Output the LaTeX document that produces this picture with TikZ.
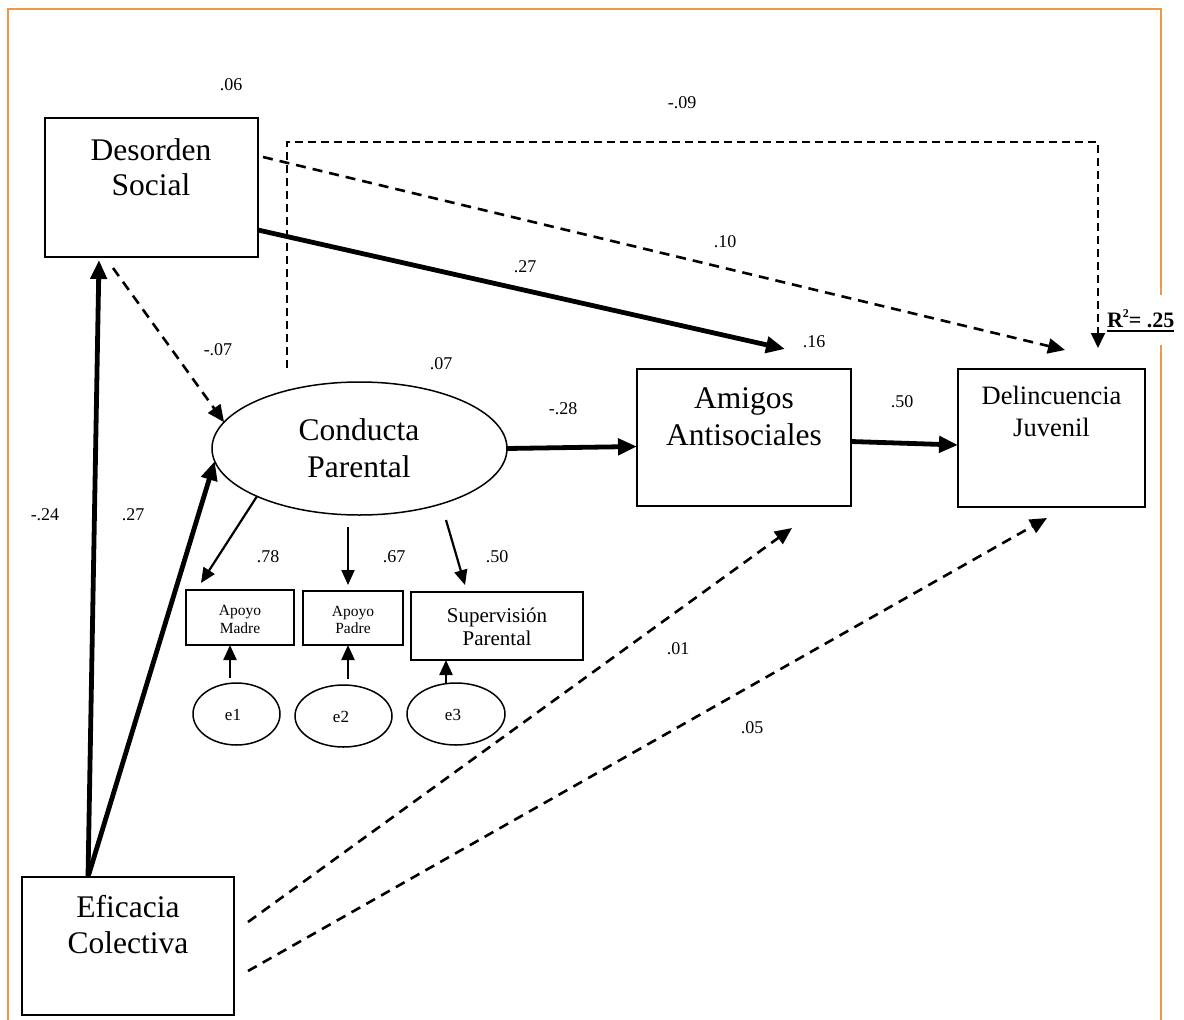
\documentclass[tikz,border=0pt]{standalone}
\usepackage{fontspec}
\setmainfont{Liberation Serif}
\usetikzlibrary{arrows.meta,calc,shapes.geometric}
\definecolor{frameor}{RGB}{243,150,72}
\begin{document}
\begin{tikzpicture}[x=1pt,y=-1pt,
  every node/.style={inner sep=0pt, outer sep=0pt},
  bigbox/.style={draw, line width=2pt, rectangle},
  smallbox/.style={draw, line width=1.5pt, rectangle},
  errell/.style={draw, ellipse, line width=1.5pt},
  lbl/.style={font=\fontsize{18}{20}\selectfont, anchor=center},
  bigtxt/.style={font=\fontsize{31.5}{35}\selectfont, anchor=base},
  midtxt/.style={font=\fontsize{26.5}{30}\selectfont, anchor=base},
  suptxt/.style={font=\fontsize{21}{23}\selectfont, anchor=base},
  smtxt/.style={font=\fontsize{15.5}{18}\selectfont, anchor=base},
  thkarrow/.style={line width=4.8pt, -{Triangle[length=19pt,width=16pt]}},
  dsharrow/.style={line width=2.6pt, dash pattern=on 10pt off 7pt, -{Triangle[length=17pt,width=15pt]}},
  thinpath/.style={line width=1.8pt, dash pattern=on 8pt off 5pt, -{Triangle[length=15pt,width=14pt]}},
  indarrow/.style={line width=2.2pt, -{Triangle[length=15pt,width=13pt]}}
]
\useasboundingbox (0,0) rectangle (1184,1020);

% frame
\draw[frameor, line width=2pt] (8,1020) -- (8,9) -- (1161,9) -- (1161,295);
\draw[frameor, line width=2pt] (1161,345) -- (1161,1020);

% main boxes
\node[bigbox, minimum width=213pt, minimum height=139pt] (ds) at (151.5,187.5) {};
\node[bigtxt] (dsA) at (151,160) {Desorden};
\node[bigtxt] (dsB) at (151,195) {Social};

\node[bigbox, minimum width=212pt, minimum height=138pt] (ef) at (128,946) {};
\node[bigtxt] (efA) at (128,917) {Eficacia};
\node[bigtxt] (efB) at (128,953) {Colectiva};

\node[bigbox, minimum width=214pt, minimum height=137pt] (am) at (744,437.5) {};
\node[bigtxt] (amA) at (744,408) {Amigos};
\node[bigtxt] (amB) at (744,445) {Antisociales};

\node[bigbox, minimum width=187pt, minimum height=138pt] (dj) at (1051.5,438) {};
\node[midtxt] (djA) at (1051.5,404) {Delincuencia};
\node[midtxt] (djB) at (1051.5,436) {Juvenil};

\node[draw, ellipse, line width=1.5pt, minimum width=295pt, minimum height=133pt] (cp) at (359.5,448.5) {};
\node[bigtxt] (cpA) at (359,440) {Conducta};
\node[bigtxt] (cpB) at (359,477) {Parental};

% indicators
\node[smallbox, minimum width=108pt, minimum height=55pt] (apm) at (240,617.5) {};
\node[smtxt] (apmA) at (240,615) {Apoyo};
\node[smtxt] (apmB) at (240,633) {Madre};

\node[smallbox, minimum width=100pt, minimum height=54pt] (app) at (353,618) {};
\node[smtxt] (appA) at (353,616) {Apoyo};
\node[smtxt] (appB) at (353,633) {Padre};

\node[smallbox, minimum width=172pt, minimum height=68pt] (sup) at (497,626) {};
\node[suptxt] (supA) at (497,622) {Supervisión};
\node[suptxt] (supB) at (497,645) {Parental};

\node[errell, minimum width=87pt, minimum height=62pt] (e1) at (236.5,714) {};
\node[font=\fontsize{17}{19}\selectfont] (e1t) at (233,715) {e1};
\node[errell, minimum width=97pt, minimum height=62pt] (e2) at (343.5,716) {};
\node[font=\fontsize{17}{19}\selectfont] (e2t) at (341,717) {e2};
\node[errell, minimum width=98pt, minimum height=62pt] (e3) at (456,714) {};
\node[font=\fontsize{17}{19}\selectfont] (e3t) at (453,715) {e3};

% measurement arrows
\draw[indarrow] (cp.205) -- ($(apm.north west)+(15,-7)$);
\draw[indarrow] ($(cp.south)+(-11.5,12)$) -- ($(app.north)+(-5,-6)$);
\draw[indarrow] ($(cp.south)+(86.5,5)$) -- ($(sup.north)+(-32,-7)$);
\draw[indarrow] ($(e1.north)+(-6.5,-5)$) -- ($(apm.south)+(-10,0)$);
\draw[indarrow] ($(e2.north)+(4.5,-6)$) -- ($(app.south)+(-5,0)$);
\draw[indarrow] ($(e3.north)+(-10,1)$) -- ($(sup.south)+(-51,0)$);

% structural paths
\draw[thkarrow] ($(ef.north)+(-40,0)$) -- ($(ds.south)+(-52.5,3)$);
\draw[thkarrow] ($(ef.north)+(-40,0)$) -- (cp.185);
\draw[dsharrow] ($(ds.south)+(-38.5,11)$) -- (cp.169);
\draw[thkarrow] ($(ds.east)+(0,42.5)$) -- ($(am.north)+(41,-20)$);
\draw[dsharrow] ($(ds.east)+(5,-30.5)$) -- ($(dj.north)+(13.5,-19)$);
\draw[thinpath] ($(cp.north)+(-72.5,-14)$) -- ++(0,-226) -| ($(dj.north)+(46.5,-21)$);
\draw[thkarrow] (cp.east) -- ($(am.west)+(0,9)$);
\draw[thkarrow] ($(am.east)+(0,4)$) -- ($(dj.west)+(0,7)$);
\draw[dsharrow] ($(ef.east)+(14,-24)$) -- ($(am.south)+(48,22)$);
\draw[dsharrow] ($(ef.east)+(14,25)$) -- ($(dj.south)+(-4.5,11)$);

% coefficient labels
\node[lbl] (l06) at (231,85) {.06};
\node[lbl] (l09) at (682,103) {-.09};
\node[lbl] (l10) at (725,242) {.10};
\node[lbl] (l27a) at (525,267) {.27};
\node[lbl] (l07) at (441,364) {.07};
\node[lbl] (l07n) at (218,350) {-.07};
\node[lbl] (l24) at (45,515) {-.24};
\node[lbl] (l27b) at (133,515) {.27};
\node[lbl] (l28) at (563,409) {-.28};
\node[lbl] (l16) at (814,342) {.16};
\node[lbl] (l50) at (902,402) {.50};
\node[lbl] (l78) at (268,557) {.78};
\node[lbl] (l67) at (394,557) {.67};
\node[lbl] (l50b) at (497,557) {.50};
\node[lbl] (l01) at (678,649) {.01};
\node[lbl] (l05) at (752,728) {.05};

% R squared
\node[anchor=base west, font=\fontsize{22}{24}\selectfont\bfseries] (r2) at (1107,327) {R\raisebox{0.42em}{\fontsize{12}{12}\selectfont 2}= .25};
\draw[line width=1.8pt] ($(r2.base west)+(0,4)$) -- ($(r2.base east)+(0,4)$);
\end{tikzpicture}
\end{document}
